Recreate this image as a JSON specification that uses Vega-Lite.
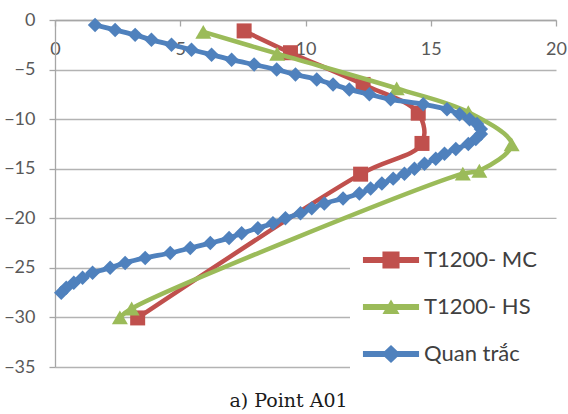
{
  "$schema": "https://vega.github.io/schema/vega-lite/v6.json",
  "width": 501,
  "height": 347,
  "autosize": {"type": "none"},
  "padding": {"left": 55, "top": 20, "right": 12, "bottom": 47},
  "background": "white",
  "config": {"view": {"stroke": null}},
  "title": {"text": "a) Point A01", "orient": "bottom", "font": "DejaVu Serif", "fontSize": 19, "fontWeight": "normal", "color": "#1a1a1a", "anchor": "middle", "dx": -17, "dy": -7, "offset": 8},
  "data": {"values": [
    {"s": "T1200- MC", "x": 7.55, "y": -1.1},
    {"s": "T1200- MC", "x": 9.4, "y": -3.3},
    {"s": "T1200- MC", "x": 12.3, "y": -6.5},
    {"s": "T1200- MC", "x": 14.5, "y": -9.4},
    {"s": "T1200- MC", "x": 14.65, "y": -12.45},
    {"s": "T1200- MC", "x": 12.2, "y": -15.55},
    {"s": "T1200- MC", "x": 3.3, "y": -30.05},
    {"s": "T1200- HS", "x": 5.92, "y": -1.2},
    {"s": "T1200- HS", "x": 8.87, "y": -3.4},
    {"s": "T1200- HS", "x": 13.64, "y": -6.9},
    {"s": "T1200- HS", "x": 16.5, "y": -9.3},
    {"s": "T1200- HS", "x": 18.23, "y": -12.55},
    {"s": "T1200- HS", "x": 16.94, "y": -15.2},
    {"s": "T1200- HS", "x": 16.28, "y": -15.5},
    {"s": "T1200- HS", "x": 3.06, "y": -29.1},
    {"s": "T1200- HS", "x": 2.59, "y": -30.0},
    {"s": "Quan trắc", "x": 1.6, "y": -0.5},
    {"s": "Quan trắc", "x": 2.4, "y": -1.0},
    {"s": "Quan trắc", "x": 3.2, "y": -1.5},
    {"s": "Quan trắc", "x": 3.85, "y": -2.0},
    {"s": "Quan trắc", "x": 4.65, "y": -2.5},
    {"s": "Quan trắc", "x": 5.45, "y": -3.0},
    {"s": "Quan trắc", "x": 6.25, "y": -3.5},
    {"s": "Quan trắc", "x": 7.05, "y": -4.0},
    {"s": "Quan trắc", "x": 7.95, "y": -4.5},
    {"s": "Quan trắc", "x": 8.85, "y": -5.0},
    {"s": "Quan trắc", "x": 9.6, "y": -5.5},
    {"s": "Quan trắc", "x": 10.45, "y": -6.0},
    {"s": "Quan trắc", "x": 11.1, "y": -6.5},
    {"s": "Quan trắc", "x": 11.75, "y": -7.0},
    {"s": "Quan trắc", "x": 12.55, "y": -7.5},
    {"s": "Quan trắc", "x": 13.4, "y": -8.0},
    {"s": "Quan trắc", "x": 14.7, "y": -8.5},
    {"s": "Quan trắc", "x": 15.65, "y": -9.0},
    {"s": "Quan trắc", "x": 16.15, "y": -9.5},
    {"s": "Quan trắc", "x": 16.55, "y": -10.0},
    {"s": "Quan trắc", "x": 16.85, "y": -10.5},
    {"s": "Quan trắc", "x": 17.0, "y": -11.0},
    {"s": "Quan trắc", "x": 17.0, "y": -11.5},
    {"s": "Quan trắc", "x": 16.8, "y": -12.0},
    {"s": "Quan trắc", "x": 16.5, "y": -12.5},
    {"s": "Quan trắc", "x": 16.0, "y": -13.0},
    {"s": "Quan trắc", "x": 15.55, "y": -13.5},
    {"s": "Quan trắc", "x": 15.2, "y": -14.0},
    {"s": "Quan trắc", "x": 14.75, "y": -14.5},
    {"s": "Quan trắc", "x": 14.35, "y": -15.0},
    {"s": "Quan trắc", "x": 13.95, "y": -15.5},
    {"s": "Quan trắc", "x": 13.5, "y": -16.0},
    {"s": "Quan trắc", "x": 13.05, "y": -16.5},
    {"s": "Quan trắc", "x": 12.6, "y": -17.0},
    {"s": "Quan trắc", "x": 12.15, "y": -17.5},
    {"s": "Quan trắc", "x": 11.5, "y": -18.0},
    {"s": "Quan trắc", "x": 10.75, "y": -18.5},
    {"s": "Quan trắc", "x": 10.25, "y": -19.0},
    {"s": "Quan trắc", "x": 9.8, "y": -19.5},
    {"s": "Quan trắc", "x": 9.2, "y": -20.0},
    {"s": "Quan trắc", "x": 8.7, "y": -20.5},
    {"s": "Quan trắc", "x": 8.1, "y": -21.0},
    {"s": "Quan trắc", "x": 7.45, "y": -21.5},
    {"s": "Quan trắc", "x": 6.95, "y": -22.0},
    {"s": "Quan trắc", "x": 6.2, "y": -22.5},
    {"s": "Quan trắc", "x": 5.4, "y": -23.0},
    {"s": "Quan trắc", "x": 4.6, "y": -23.5},
    {"s": "Quan trắc", "x": 3.6, "y": -24.0},
    {"s": "Quan trắc", "x": 2.8, "y": -24.5},
    {"s": "Quan trắc", "x": 2.2, "y": -25.0},
    {"s": "Quan trắc", "x": 1.5, "y": -25.5},
    {"s": "Quan trắc", "x": 1.1, "y": -26.0},
    {"s": "Quan trắc", "x": 0.75, "y": -26.5},
    {"s": "Quan trắc", "x": 0.45, "y": -27.0},
    {"s": "Quan trắc", "x": 0.25, "y": -27.5}
  ]},
  "encoding": {
    "x": {"field": "x", "type": "quantitative",
      "scale": {"domain": [0, 20], "nice": false, "zero": false},
      "axis": {"orient": "bottom", "offset": -347, "values": [0, 5, 10, 15, 20], "grid": false, "title": null,
        "domainColor": "#a6a6a6", "domainWidth": 1.3, "tickColor": "#a6a6a6", "tickWidth": 1.3, "tickSize": 6,
        "labelFont": "Lato", "labelFontSize": 18, "labelColor": "#595959", "labelPadding": 14, "labelFlush": false, "labelOverlap": false}},
    "y": {"field": "y", "type": "quantitative",
      "scale": {"domain": [-35, 0], "nice": false, "zero": false},
      "axis": {"values": [0, -5, -10, -15, -20, -25, -30, -35], "grid": true, "gridColor": "#b3b3b3", "gridWidth": 1.3, "title": null,
        "domainColor": "#a6a6a6", "domainWidth": 1.3, "tickColor": "#a6a6a6", "tickWidth": 1.3, "tickSize": 6,
        "labelFont": "Lato", "labelFontSize": 18, "labelColor": "#595959", "labelPadding": 14, "labelFlush": false, "labelOverlap": false}},
    "color": {"field": "s", "type": "nominal",
      "scale": {"domain": ["T1200- MC", "T1200- HS", "Quan trắc"], "range": ["#C0504D", "#9BBB59", "#4F81BD"]},
      "legend": {"title": null, "orient": "none", "legendX": 295, "legendY": 199, "padding": 26, "rowPadding": 21,
        "fillColor": "white", "strokeColor": null, "symbolSize": 900, "symbolStrokeWidth": 0,
        "labelFont": "Lato", "labelFontSize": 22, "labelColor": "#404040", "labelOffset": 18,
        "encode": {"symbols": {"update": {
          "shape": [
            {"test": "datum.value === 'T1200- MC'", "value": "M-1.87,-0.2H1.87V0.2H-1.87Z M-0.57,-0.57H0.57V0.57H-0.57Z"},
            {"test": "datum.value === 'T1200- HS'", "value": "M-1.87,-0.2H1.87V0.2H-1.87Z M0,-0.5L0.57,0.46H-0.57Z"},
            {"value": "M-1.87,-0.2H1.87V0.2H-1.87Z M0,-0.6L0.63,0L0,0.6L-0.63,0Z"}
          ],
          "fill": {"scale": "color", "field": "value"},
          "stroke": {"value": "transparent"},
          "strokeWidth": {"value": 0},
          "opacity": {"value": 1}
        }}}}},
    "order": {"field": "y", "sort": "descending"}
  },
  "layer": [
    {"transform": [{"filter": "datum.s === 'T1200- MC'"}], "mark": {"type": "line", "strokeWidth": 4.5, "interpolate": "catmull-rom"}},
    {"transform": [{"filter": "datum.s === 'T1200- MC'"}], "mark": {"type": "point", "shape": "square", "size": 225, "filled": true, "opacity": 1}},
    {"transform": [{"filter": "datum.s === 'T1200- HS'"}], "mark": {"type": "line", "strokeWidth": 4.5, "interpolate": "catmull-rom"}},
    {"transform": [{"filter": "datum.s === 'T1200- HS'"}], "mark": {"type": "point", "shape": "triangle-up", "size": 256, "filled": true, "opacity": 1}},
    {"transform": [{"filter": "datum.s === 'Quan trắc'"}], "mark": {"type": "line", "strokeWidth": 4.8, "interpolate": "catmull-rom"}},
    {"transform": [{"filter": "datum.s === 'Quan trắc'"}], "mark": {"type": "point", "shape": "diamond", "size": 210, "filled": true, "opacity": 1}}
  ]
}
